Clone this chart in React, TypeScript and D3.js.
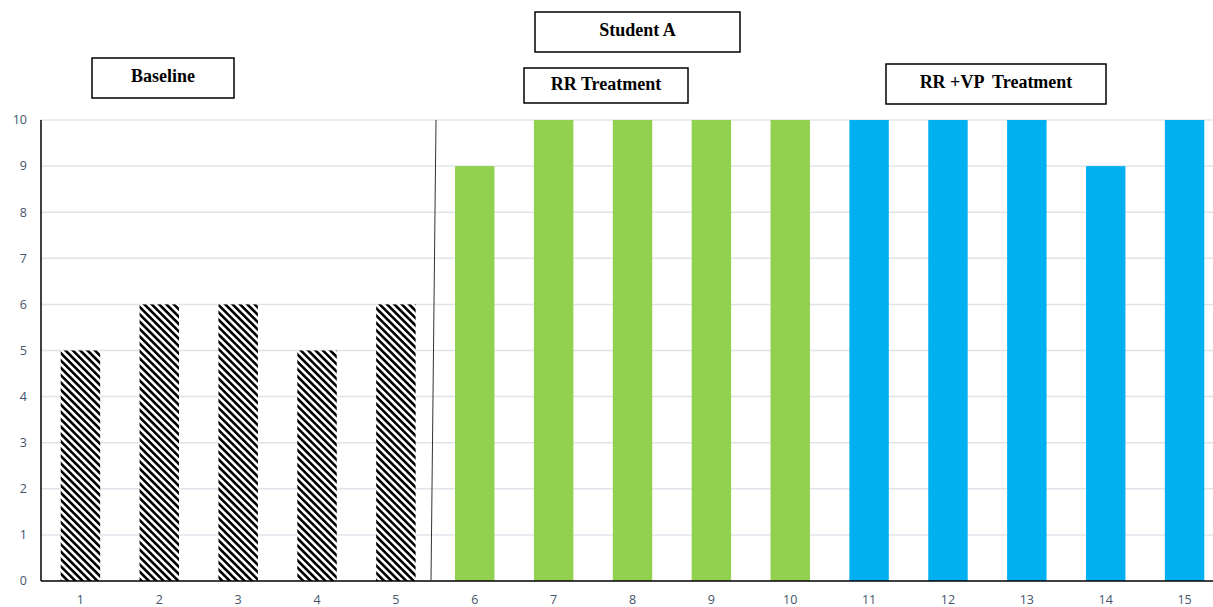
import React from "react";
import * as d3 from "d3";

const sessions = ["1","2","3","4","5","6","7","8","9","10","11","12","13","14","15"];
const baseline = [5, 6, 6, 5, 6];
const rrTreatment = [9, 10, 10, 10, 10];
const rrVpTreatment = [10, 10, 10, 9, 10];
const yTicks = [0,1,2,3,4,5,6,7,8,9,10];

const W = 1213, H = 607;

export default function App() {
  const x = d3.scaleBand<string>().domain(sessions).range([41, 1224]).paddingInner(0.5).paddingOuter(0.25);
  const y = d3.scaleLinear().domain([0, 10]).range([581, 120]);
  const bars = [
    ...baseline.map((v, i) => ({ s: sessions[i], v, fill: "url(#hatch)" })),
    ...rrTreatment.map((v, i) => ({ s: sessions[i + 5], v, fill: "#92d050" })),
    ...rrVpTreatment.map((v, i) => ({ s: sessions[i + 10], v, fill: "#00b0f0" })),
  ];
  const labelFont = "Open Sans, sans-serif";
  const boxes = [
    { t: "Baseline", x: 92, y: 58, w: 142, h: 40 },
    { t: "Student A", x: 535, y: 12, w: 205, h: 40 },
    { t: "RR Treatment", x: 524, y: 68, w: 164, h: 35 },
    { t: "RR +VP  Treatment", x: 886, y: 64, w: 220, h: 40 },
  ];
  return (
    <svg width={W} height={H} style={{ position: "absolute", left: 0, top: 0, background: "#fff" }}>
      <defs>
        <pattern id="hatch" patternUnits="userSpaceOnUse" width="5.2" height="5.2" patternTransform="rotate(-45)">
          <rect width="5.2" height="5.2" fill="#fff" />
          <line x1="1.3" y1="0" x2="1.3" y2="5.2" stroke="#000" strokeWidth="2.6" />
        </pattern>
      </defs>
      {yTicks.map((t) => (
        <g key={t}>
          {t > 0 && <line x1={41} x2={W} y1={y(t)} y2={y(t)} stroke="#e0e4ea" strokeWidth={1.5} />}
          <text x={27} y={y(t)} dy="0.35em" textAnchor="end" fontSize={12.5} fill="#44546a" fontFamily={labelFont}>{t}</text>
        </g>
      ))}
      {bars.map((b) => (
        <rect key={b.s} x={x(b.s)!} width={x.bandwidth()} y={y(b.v)} height={y(0) - y(b.v)} fill={b.fill} />
      ))}
      {sessions.map((s) => (
        <text key={s} x={x(s)! + x.bandwidth() / 2} y={604} textAnchor="middle" fontSize={12.5} fill="#44546a" fontFamily={labelFont}>{s}</text>
      ))}
      <line x1={41} x2={41} y1={120} y2={581} stroke="#000" strokeWidth={1.5} />
      <line x1={41} x2={W} y1={581} y2={581} stroke="#000" strokeWidth={1.5} />
      <line x1={436} x2={431} y1={120} y2={581} stroke="#333" strokeWidth={1} />
      {boxes.map((b) => (
        <g key={b.t}>
          <rect x={b.x} y={b.y} width={b.w} height={b.h} fill="#fff" stroke="#000" strokeWidth={1.5} />
          <text x={b.x + b.w / 2} y={b.y + b.h / 2 - 2} dy="0.35em" textAnchor="middle" fontSize={18} fontWeight="bold" fontFamily="Liberation Serif, Times New Roman, serif" fill="#000" style={{ whiteSpace: "pre" }}>{b.t}</text>
        </g>
      ))}
    </svg>
  );
}
